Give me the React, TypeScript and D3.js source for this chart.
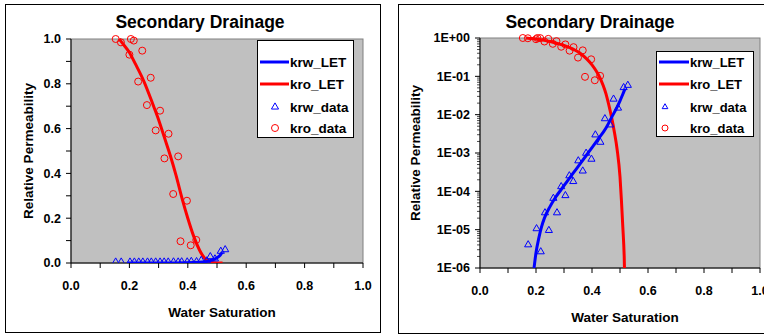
import React, { useEffect, useRef } from 'react';
import * as d3 from 'd3';

// kro data (water saturation, relative permeability)
const kroDataSw = [0.153, 0.171, 0.2, 0.205, 0.215, 0.23, 0.244, 0.26, 0.273, 0.29, 0.305, 0.32, 0.334, 0.35, 0.367, 0.375, 0.397, 0.41, 0.429];
const kroDataKr = [1.0, 0.985, 0.93, 1.0, 0.993, 0.81, 0.948, 0.705, 0.827, 0.592, 0.68, 0.467, 0.577, 0.308, 0.476, 0.097, 0.278, 0.079, 0.103];

// krw data
const krwDataSw = [0.153, 0.172, 0.202, 0.217, 0.232, 0.246, 0.262, 0.275, 0.29, 0.305, 0.319, 0.333, 0.351, 0.367, 0.379, 0.398, 0.412, 0.43, 0.446, 0.465, 0.477, 0.493, 0.513, 0.528];
const krwDataKr = [5e-7, 3.8e-6, 1e-5, 2.5e-6, 2.6e-5, 9e-6, 6.2e-5, 2.6e-5, 1.25e-4, 7.3e-5, 2.4e-4, 1.7e-4, 5.9e-4, 3.2e-4, 9.3e-4, 6.5e-4, 2.8e-3, 1.8e-3, 7.4e-3, 5.1e-3, 2.4e-2, 1.4e-2, 4.8e-2, 5.5e-2];

// LET fitted curves
const kroLetSw = [0.165, 0.18, 0.2, 0.22, 0.25, 0.28, 0.3, 0.32, 0.34, 0.36, 0.38, 0.4, 0.42, 0.44, 0.45, 0.46, 0.47, 0.48, 0.49, 0.5, 0.505, 0.51, 0.515, 0.519];
const kroLetKr = [1.0, 0.975, 0.94, 0.89, 0.81, 0.71, 0.64, 0.56, 0.48, 0.39, 0.29, 0.2, 0.12, 0.058, 0.035, 0.018, 8.5e-3, 3.5e-3, 1.2e-3, 2.4e-4, 6e-5, 1.2e-5, 2e-6, 1e-7];
const krwLetSw = [0.193, 0.2, 0.21, 0.22, 0.23, 0.25, 0.27, 0.3, 0.33, 0.36, 0.39, 0.42, 0.45, 0.47, 0.49, 0.5, 0.51, 0.518];
const krwLetKr = [1e-6, 2.5e-6, 6e-6, 1.2e-5, 2e-5, 4e-5, 7e-5, 1.4e-4, 2.8e-4, 5.5e-4, 1.1e-3, 2.2e-3, 4.5e-3, 8.5e-3, 1.6e-2, 2.3e-2, 3.4e-2, 4.8e-2];

const xTicks = [0, 0.2, 0.4, 0.6, 0.8, 1.0];
const linTicks = [0, 0.2, 0.4, 0.6, 0.8, 1.0];
const logTicks = [1e-6, 1e-5, 1e-4, 1e-3, 1e-2, 1e-1, 1];
const legendNames = ['krw_LET', 'kro_LET', 'krw_data', 'kro_data'];

const FONT = "Arial, 'Liberation Sans', sans-serif";

const App = () => {
  const ref = useRef<SVGSVGElement>(null);

  useEffect(() => {
    document.body.style.margin = '0';
    const svg = d3.select(ref.current);
    svg.selectAll('*').remove();
    svg.append('rect').attr('width', 764).attr('height', 335).attr('fill', '#fff');

    const panels = [
      { id: 'lin', log: false, box: [5, 4, 375, 328], plot: [71, 39, 292, 224], titleX: 200, yLabX: 33, xLabY: 317, legend: [257, 40, 96, 97], mk: 18, lineX: 3, textX: 33, legFont: 13.5 },
      { id: 'log', log: true, box: [398, 4, 380, 329], plot: [480, 38, 280, 230], titleX: 590, yLabX: 420, xLabY: 322, legend: [656, 51, 97, 85], mk: 9, lineX: 3, textX: 34, legFont: 13 },
    ];

    panels.forEach(p => {
      const [px, py, pw, ph] = p.plot;
      const g = svg.append('g');

      g.append('rect')
        .attr('x', p.box[0] + 0.5).attr('y', p.box[1] + 0.5)
        .attr('width', p.box[2]).attr('height', p.box[3])
        .attr('fill', '#fff').attr('stroke', '#000').attr('stroke-width', 1);

      const x = d3.scaleLinear().domain([0, 1]).range([px, px + pw]);
      const y: any = p.log
        ? d3.scaleLog().domain([1e-6, 1]).range([py + ph, py])
        : d3.scaleLinear().domain([0, 1]).range([py + ph, py]);

      g.append('rect')
        .attr('x', px).attr('y', py).attr('width', pw).attr('height', ph)
        .attr('fill', '#c0c0c0').attr('stroke', '#808080').attr('stroke-width', 1);

      // x axis ticks
      d3.range(0, 1.0001, 0.1).forEach(t => {
        g.append('line')
          .attr('x1', x(t)).attr('x2', x(t))
          .attr('y1', py + ph).attr('y2', py + ph + 5)
          .attr('stroke', '#000');
      });
      xTicks.forEach(t => {
        g.append('text')
          .attr('x', x(t)).attr('y', py + ph + 27)
          .attr('text-anchor', 'middle')
          .style('font', `bold 12.5px ${FONT}`)
          .text(d3.format('.1f')(t));
      });

      // y axis ticks
      if (p.log) {
        logTicks.forEach((t, i) => {
          g.append('line')
            .attr('x1', px - 5).attr('x2', px)
            .attr('y1', y(t)).attr('y2', y(t)).attr('stroke', '#000');
          if (i < logTicks.length - 1) {
            d3.range(2, 10).forEach(m => {
              g.append('line')
                .attr('x1', px - 3).attr('x2', px)
                .attr('y1', y(t * m)).attr('y2', y(t * m))
                .attr('stroke', '#000').attr('stroke-width', 0.7);
            });
          }
          const e = Math.round(Math.log10(t));
          g.append('text')
            .attr('x', px - 10).attr('y', y(t)).attr('dy', '0.35em')
            .attr('text-anchor', 'end')
            .style('font', `bold 12.5px ${FONT}`)
            .text(`1E${e < 0 ? '-' : '+'}${String(Math.abs(e)).padStart(2, '0')}`);
        });
      } else {
        d3.range(0, 1.0001, 0.1).forEach(t => {
          g.append('line')
            .attr('x1', px - 5).attr('x2', px)
            .attr('y1', y(t)).attr('y2', y(t)).attr('stroke', '#000');
        });
        linTicks.forEach(t => {
          g.append('text')
            .attr('x', px - 10).attr('y', y(t)).attr('dy', '0.35em')
            .attr('text-anchor', 'end')
            .style('font', `bold 12.5px ${FONT}`)
            .text(d3.format('.1f')(t));
        });
      }

      // axis lines
      g.append('line').attr('x1', px).attr('x2', px).attr('y1', py).attr('y2', py + ph).attr('stroke', '#000');
      g.append('line').attr('x1', px).attr('x2', px + pw).attr('y1', py + ph).attr('y2', py + ph).attr('stroke', '#000');

      // clip
      svg.append('clipPath').attr('id', `clip-${p.id}`)
        .append('rect').attr('x', px).attr('y', py - 6).attr('width', pw).attr('height', ph + 6);
      const plotG = g.append('g').attr('clip-path', `url(#clip-${p.id})`);

      const line = d3.line<[number, number]>()
        .x(d => x(d[0]))
        .y(d => y(p.log ? Math.max(d[1], 1e-8) : d[1]))
        .curve(d3.curveMonotoneX);

      const krwLet = krwLetSw.map((s, i) => [s, krwLetKr[i]] as [number, number]);
      const kroLet = kroLetSw.map((s, i) => [s, kroLetKr[i]] as [number, number]);

      plotG.append('path').attr('d', line(kroLet)).attr('fill', 'none').attr('stroke', '#ff0000').attr('stroke-width', 3);
      plotG.append('path').attr('d', line(krwLet)).attr('fill', 'none').attr('stroke', '#0000ff').attr('stroke-width', 3);

      const tri = d3.symbol().type(d3.symbolTriangle).size(22);
      krwDataSw.forEach((s, i) => {
        const v = krwDataKr[i];
        if (p.log && v < 1e-6) return;
        plotG.append('path')
          .attr('d', tri())
          .attr('transform', `translate(${x(s)},${y(v) - 1})`)
          .attr('fill', 'none').attr('stroke', '#0000ff').attr('stroke-width', 1);
      });
      kroDataSw.forEach((s, i) => {
        plotG.append('circle')
          .attr('cx', x(s)).attr('cy', y(kroDataKr[i])).attr('r', 3.5)
          .attr('fill', 'none').attr('stroke', '#ff0000').attr('stroke-width', 1);
      });

      // titles
      g.append('text')
        .attr('x', p.titleX).attr('y', 28)
        .attr('text-anchor', 'middle')
        .style('font', `bold 17.5px ${FONT}`)
        .text('Secondary Drainage');
      g.append('text')
        .attr('x', (px + px + pw) / 2 + 5).attr('y', p.xLabY)
        .attr('text-anchor', 'middle')
        .style('font', `bold 13.5px ${FONT}`)
        .text('Water Saturation');
      g.append('text')
        .attr('transform', `translate(${p.yLabX},${py + ph / 2}) rotate(-90)`)
        .attr('text-anchor', 'middle')
        .style('font', `bold 13.5px ${FONT}`)
        .text('Relative Permeability');

      // legend
      const [lx, ly, lw, lh] = p.legend;
      const lg = g.append('g');
      lg.append('rect')
        .attr('x', lx + 0.5).attr('y', ly + 0.5).attr('width', lw).attr('height', lh)
        .attr('fill', '#fff').attr('stroke', '#000');
      const rows = [62, 84, 107, 128];
      legendNames.forEach((name, i) => {
        const ry = rows[i];
        if (i === 0 || i === 1) {
          lg.append('line')
            .attr('x1', lx + p.lineX).attr('x2', lx + p.textX - 1)
            .attr('y1', ry).attr('y2', ry)
            .attr('stroke', i === 0 ? '#0000ff' : '#ff0000').attr('stroke-width', 3);
        } else if (i === 2) {
          lg.append('path')
            .attr('d', d3.symbol().type(d3.symbolTriangle).size(p.log ? 14 : 22)())
            .attr('transform', `translate(${lx + p.mk},${ry})`)
            .attr('fill', 'none').attr('stroke', '#0000ff');
        } else {
          lg.append('circle')
            .attr('cx', lx + p.mk).attr('cy', ry).attr('r', p.log ? 3 : 3.5)
            .attr('fill', 'none').attr('stroke', '#ff0000');
        }
        lg.append('text')
          .attr('x', lx + p.textX).attr('y', ry).attr('dy', '0.35em')
          .style('font', `bold ${p.legFont}px ${FONT}`)
          .text(name);
      });
    });
  }, []);

  return <svg ref={ref} width={764} height={335} style={{ display: 'block' }}></svg>;
};

export default App;
